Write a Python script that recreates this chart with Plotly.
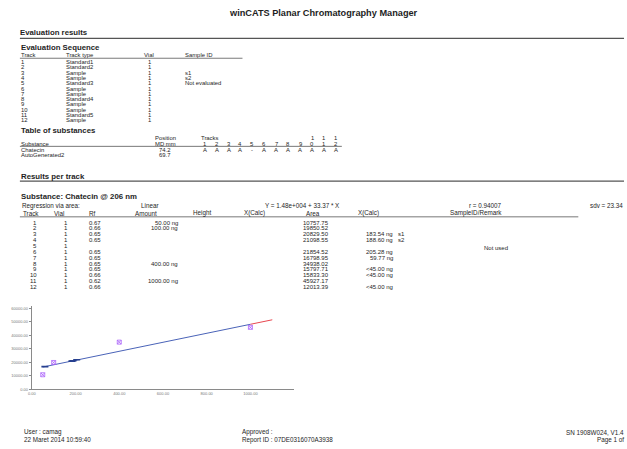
import plotly.graph_objects as go

W, H = 627, 449
FONT = "Liberation Sans, Arial, sans-serif"
INK = "#1e1e1e"

# ---- Evaluation sequence ----
seq_track = ["1", "2", "3", "4", "5", "6", "7", "8", "9", "10", "11", "12"]
seq_type = ["Standard1", "Standard2", "Sample", "Sample", "Standard3", "Sample",
            "Sample", "Standard4", "Sample", "Sample", "Standard5", "Sample"]
seq_vial = ["1", "1", "1", "1", "1", "1", "1", "1", "1", "1", "1", "1"]
seq_sample_id = ["", "", "s1", "s2", "Not evaluated", "", "", "", "", "", "", ""]

# ---- Table of substances ----
track_tens = ["", "", "", "", "", "", "", "", "", "1", "1", "1"]
track_units = ["1", "2", "3", "4", "5", "6", "7", "8", "9", "0", "1", "2"]
subst_name = ["Chatecin", "AutoGenerated2"]
subst_md = ["74.2", "69.7"]
subst_flags = [["A", "A", "A", "A", "-", "A", "A", "A", "A", "A", "A", "A"], []]

# ---- Results per track ----
res_track = [1, 2, 3, 4, 5, 6, 7, 8, 9, 10, 11, 12]
res_vial = [1, 1, 1, 1, 1, 1, 1, 1, 1, 1, 1, 1]
res_rf = [0.67, 0.66, 0.65, 0.65, None, 0.65, 0.65, 0.65, 0.65, 0.66, 0.62, 0.66]
res_amount = [50.0, 100.0, None, None, None, None, None, 400.0, None, None, 1000.0, None]
res_area = [10757.75, 19850.52, 20829.50, 21098.55, None, 21854.52, 16798.95,
            34938.02, 15797.71, 15833.30, 45927.17, 12013.39]
res_xcalc = [None, None, 183.54, 188.60, None, 205.28, 59.77, None, None, None, None, None]
res_below_lod = [False, False, False, False, False, False, False, False, True, True, False, True]
res_sample_tag = ["", "", "s1", "s2", "", "", "", "", "", "", "", ""]
res_remark = ["", "", "", "", "Not used", "", "", "", "", "", "", ""]
lod_ng = 45.0

# regression  Y = a + b * X
reg_a = 1.48e4
reg_b = 33.37
reg_r = 0.94007
reg_sdv = 23.34
fit_x = [50.0, 1000.0]
ext_x = [1000.0, 1100.0]

x_ticks = [0, 200, 400, 600, 800, 1000]
y_ticks = [0, 10000, 20000, 30000, 40000, 50000, 60000]


def px(x):
    return x / W


def py(y):
    return 1 - y / H


annotations = []
shapes = []
SEQ = 5.9      # evaluation sequence rows
SUB = 5.9      # table of substances
RES = 6.0      # results per track rows
HEAD = 7.8     # section headings


def text(x, y, s, size=SEQ, bold=False, anchor="left", color=INK):
    if bold:
        s = "<b>" + s + "</b>"
    annotations.append(dict(
        x=px(x), y=py(y), xref="paper", yref="paper", text=s, showarrow=False,
        xanchor=anchor, yanchor="middle", borderpad=0, borderwidth=0,
        font=dict(family=FONT, size=size, color=color)))


def hline(x0, x1, y, color="#555", width=1):
    shapes.append(dict(type="line", xref="paper", yref="paper",
                       x0=px(x0), x1=px(x1), y0=py(y), y1=py(y),
                       line=dict(color=color, width=width)))


def sci(v):
    # Windows-style exponent with three digits, e.g. 1.48e+004
    mant, exp = ("%.2e" % v).split("e")
    return "%se%s%03d" % (mant, exp[0], abs(int(exp)))


# page header
text(322, 13, "winCATS Planar Chromatography Manager", size=9.2, bold=True, anchor="center")
text(16, 33, "Evaluation results", size=HEAD, bold=True)
hline(16, 624, 38.5, width=1.3)

# evaluation sequence
text(17, 48, "Evaluation Sequence", size=HEAD, bold=True)
text(17, 55.3, "Track")
text(62, 55.3, "Track type")
text(141, 55.3, "Vial")
text(182, 55.3, "Sample ID")
hline(16, 240, 58.5, width=0.8)
for i in range(len(seq_track)):
    y = 62.5 + 5.3 * i
    text(17, y, seq_track[i])
    text(62, y, seq_type[i])
    text(145, y, seq_vial[i])
    text(182, y, seq_sample_id[i])

# table of substances
text(17, 131.5, "Table of substances", size=HEAD, bold=True)
track_x = [202 + 12 * k for k in range(12)]
text(152, 138.6, "Position", SUB)
text(198, 138.6, "Tracks", SUB)
text(17, 144.2, "Substance", SUB)
text(152, 144.2, "MD mm", SUB)
for k in range(12):
    if track_tens[k]:
        text(track_x[k], 138.6, track_tens[k], SUB, anchor="center")
    text(track_x[k], 144.2, track_units[k], SUB, anchor="center")
hline(16, 340, 147, width=0.8)
for j in range(len(subst_name)):
    y = 150.2 + 5.4 * j
    text(17, y, subst_name[j], SUB)
    text(156, y, subst_md[j], SUB)
    for k, flag in enumerate(subst_flags[j]):
        text(track_x[k], y, flag, SUB, anchor="center")

# results per track
text(17, 177, "Results per track", size=HEAD, bold=True)
hline(16, 624, 182, width=1.3)
text(17, 197, "Substance: Chatecin @ 206 nm", size=HEAD, bold=True)
text(18, 206.5, "Regression via area:", 6.3)
text(138, 206.5, "Linear", 6.3)
text(263, 206.5, "Y = %s + %.2f * X" % (sci(reg_a), reg_b), 6.3)
text(468, 206.5, "r = %.5f" % reg_r, 6.3)
text(623, 206.5, "sdv = %.2f" % reg_sdv, 6.3, anchor="right")
hdr_y = 214.3
text(19, hdr_y, "Track", 6.3)
text(50, hdr_y, "Vial", 6.3)
text(86, hdr_y, "Rf", 6.3)
text(132, hdr_y, "Amount", 6.3)
text(190, hdr_y, "Height", 6.3)
text(242, hdr_y, "X(Calc)", 6.3)
text(304, hdr_y, "Area", 6.3)
text(356, hdr_y, "X(Calc)", 6.3)
text(449, hdr_y, "SampleID/Remark", 6.3)
hline(16, 578, 217.8, width=0.8)
for i in range(len(res_track)):
    y = 223.5 + 5.9 * i
    text(33, y, str(res_track[i]), RES, anchor="right")
    text(62, y, str(res_vial[i]), RES, anchor="center")
    if res_rf[i] is not None:
        text(86, y, "%.2f" % res_rf[i], RES)
    if res_amount[i] is not None:
        text(175, y, "%.2f ng" % res_amount[i], RES, anchor="right")
    if res_area[i] is not None:
        text(301, y, "%.2f" % res_area[i], RES)
    if res_xcalc[i] is not None:
        text(392, y, "%.2f ng" % res_xcalc[i], RES, anchor="right")
    elif res_below_lod[i]:
        text(392, y, "<%.2f ng" % lod_ng, RES, anchor="right")
    if res_sample_tag[i]:
        text(397, y, res_sample_tag[i], RES)
    if res_remark[i]:
        text(495, y + 2.5, res_remark[i], RES, anchor="center")

# footer
text(20, 434, "User : camag", 6.3)
text(20, 441.5, "22 Maret 2014 10:59:40", 6.3)
text(240, 434, "Approved :", 6.3)
text(240, 441.5, "Report ID : 07DE0316070A3938", 6.3)
text(624, 434, "SN 1908W024, V1.4", 6.3, anchor="right")
text(624, 441.5, "Page 1 of", 6.3, anchor="right")

# calibration plot data
std_x = [a for a in res_amount if a is not None]
std_y = [res_area[i] for i in range(len(res_amount)) if res_amount[i] is not None]
smp_x = [res_xcalc[i] for i in range(len(res_xcalc)) if res_xcalc[i] is not None]
smp_y = [res_area[i] for i in range(len(res_xcalc)) if res_xcalc[i] is not None]
fit_y = [reg_a + reg_b * v for v in fit_x]
ext_y = [reg_a + reg_b * v for v in ext_x]

fig = go.Figure()
fig.add_trace(go.Scatter(x=fit_x, y=fit_y, mode="lines",
                         line=dict(color="#4a63b8", width=1)))
fig.add_trace(go.Scatter(x=ext_x, y=ext_y, mode="lines",
                         line=dict(color="#e8474f", width=1)))
fig.add_trace(go.Scatter(x=smp_x, y=smp_y, mode="markers",
                         marker=dict(symbol="line-ew", size=5,
                                     line=dict(color="#27408f", width=1.6))))
fig.add_trace(go.Scatter(x=std_x, y=std_y, mode="markers",
                         marker=dict(symbol="square-x-open", size=4,
                                     line=dict(color="#e53945", width=0.8))))

axis_font = dict(family=FONT, size=4, color="#777")
fig.update_layout(
    width=W, height=H, margin=dict(l=0, r=0, t=0, b=0),
    paper_bgcolor="white", plot_bgcolor="white", showlegend=False,
    annotations=annotations, shapes=shapes,
    xaxis=dict(domain=[px(28), px(292)], range=[0, 1200], showgrid=False,
               zeroline=False, showline=True, linecolor="#8a8a8a", linewidth=1,
               tickmode="array", tickvals=x_ticks,
               ticktext=["%.2f" % v for v in x_ticks],
               ticks="", tickfont=axis_font),
    yaxis=dict(domain=[py(391), py(307)], range=[0, 62000], showgrid=False,
               zeroline=False, showline=True, linecolor="#8a8a8a", linewidth=1,
               tickmode="array", tickvals=y_ticks,
               ticktext=["%.2f" % v for v in y_ticks],
               ticks="outside", ticklen=2, tickcolor="#8a8a8a", tickfont=axis_font),
)

fig.write_html("out.html")
